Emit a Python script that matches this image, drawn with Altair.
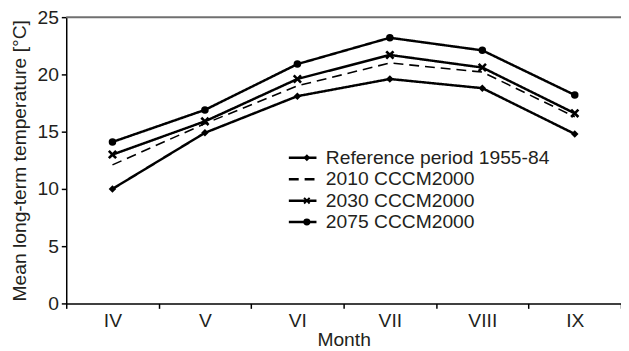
import altair as alt
import pandas as pd

months = ["IV", "V", "VI", "VII", "VIII", "IX"]
series_names = ["Reference period 1955-84", "2010 CCCM2000", "2030 CCCM2000", "2075 CCCM2000"]
ref_vals = [10.0, 14.9, 18.1, 19.6, 18.8, 14.8]
c2010_vals = [12.1, 15.7, 19.0, 21.0, 20.2, 16.3]
c2030_vals = [13.0, 15.9, 19.6, 21.7, 20.6, 16.6]
c2075_vals = [14.1, 16.9, 20.9, 23.2, 22.1, 18.2]
y_ticks = [0, 5, 10, 15, 20, 25]

rows = []
for name, vals in zip(series_names, [ref_vals, c2010_vals, c2030_vals, c2075_vals]):
    for m, v in zip(months, vals):
        rows.append({"month": m, "series": name, "temp": v})
df = pd.DataFrame(rows)
pts_df = df[df["series"] != "2010 CCCM2000"]
top_df = pd.DataFrame({"y": [25]})

FONT = "Liberation Sans"
TXT = "#231f20"
FS = 19.5
XPATH = "M-1,-0.6L-0.6,-1L0,-0.4L0.6,-1L1,-0.6L0.4,0L1,0.6L0.6,1L0,0.4L-0.6,1L-1,0.6L-0.4,0Z"

x_enc = alt.X(
    "month:N", sort=months, bandPosition=0.5,
    scale=alt.Scale(type="band", paddingInner=0, paddingOuter=0),
    axis=alt.Axis(title="Month", tickBand="extent", labelAngle=0, labelPadding=3, titlePadding=1),
)
y_enc = alt.Y(
    "temp:Q",
    scale=alt.Scale(domain=[0, 25], nice=False),
    axis=alt.Axis(title="Mean long-term temperature [°C]", values=y_ticks, grid=False,
                  labelPadding=3, titlePadding=8),
)

top_rule = alt.Chart(top_df).mark_rule(color="#707070", strokeWidth=2).encode(
    y=alt.Y("y:Q", scale=alt.Scale(domain=[0, 25], nice=False))
)

lines = alt.Chart(df).mark_line(color="black").encode(
    x=x_enc, y=y_enc,
    strokeDash=alt.StrokeDash(
        "series:N", sort=series_names,
        scale=alt.Scale(range=[[1, 0], [10, 6], [1, 0], [1, 0]]),
        legend=alt.Legend(orient="none", legendX=224, legendY=133, title=None,
                          labelFont=FONT, labelFontSize=FS, labelColor=TXT, labelLimit=0,
                          symbolType="stroke", symbolSize=784, symbolStrokeColor="black",
                          symbolStrokeWidth=2.5, padding=0, rowPadding=1.7, labelOffset=8,
                          clipHeight=19),
    ),
    strokeWidth=alt.condition(alt.datum.series == "2010 CCCM2000", alt.value(1.6), alt.value(2.5)),
)

points = alt.Chart(pts_df).mark_point(filled=True, color="black", opacity=1).encode(
    x=x_enc, y=y_enc,
    shape=alt.Shape(
        "series:N",
        scale=alt.Scale(domain=series_names, range=["diamond", "M0,0", XPATH, "circle"]),
        legend=alt.Legend(orient="none", legendX=234, legendY=133, title=None,
                          labelFont=FONT, labelFontSize=FS, labelExpr="''",
                          symbolSize=50, symbolFillColor="black", symbolStrokeWidth=0,
                          padding=0, rowPadding=1.7, labelOffset=8, clipHeight=19),
    ),
    size=alt.condition(alt.datum.series == "2030 CCCM2000", alt.value(85), alt.value(58)),
)

chart = alt.layer(top_rule, lines, points).properties(
    width=562, height=290,
    autosize=alt.AutoSizeParams(type="none"),
    padding={"left": 59, "top": 7, "right": 0, "bottom": 52},
).configure_view(stroke=None).configure_axis(
    domainColor="black", domainWidth=1.5, tickColor="black", tickWidth=1.5, tickSize=5,
    labelFont=FONT, labelFontSize=FS, labelColor=TXT,
    titleFont=FONT, titleFontSize=FS, titleFontWeight="normal", titleColor=TXT,
)

chart.save("out.html", embed_options={"renderer": "svg", "actions": False})
